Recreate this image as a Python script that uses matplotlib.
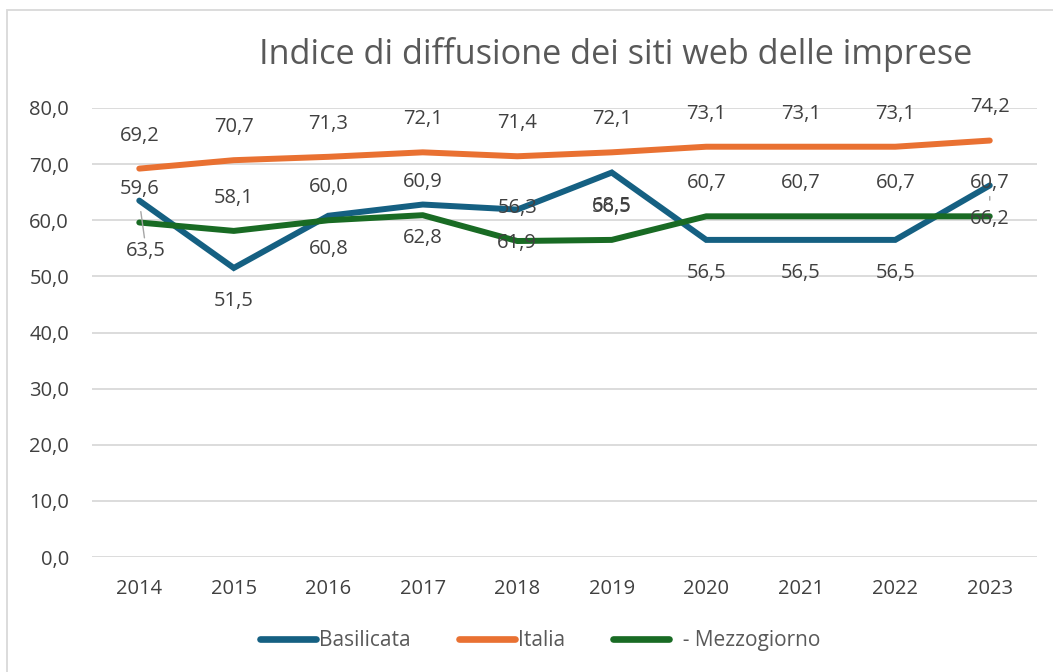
import matplotlib
matplotlib.use("Agg")
import matplotlib.pyplot as plt
from matplotlib import font_manager as fm

years = ["2014", "2015", "2016", "2017", "2018", "2019", "2020", "2021", "2022", "2023"]
basilicata = [63.5, 51.5, 60.8, 62.8, 61.9, 68.5, 56.5, 56.5, 56.5, 66.2]
italia = [69.2, 70.7, 71.3, 72.1, 71.4, 72.1, 73.1, 73.1, 73.1, 74.2]
mezzogiorno = [59.6, 58.1, 60.0, 60.9, 56.3, 56.5, 60.7, 60.7, 60.7, 60.7]
series_names = ["Basilicata", "Italia", "  - Mezzogiorno"]
yticks = [0, 10, 20, 30, 40, 50, 60, 70, 80]
title = "Indice di diffusione dei siti web delle imprese"

c_bas = "#156082"
c_ita = "#E97132"
c_mez = "#196B24"
txt = "#404040"

avail = {f.name for f in fm.fontManager.ttflist}
main_font = "Open Sans" if "Open Sans" in avail else "DejaVu Sans"
plt.rcParams["font.family"] = [main_font, "DejaVu Sans"]

fig = plt.figure(figsize=(10.53, 6.72), dpi=100)
ax = fig.add_axes([0.0874, 0.1711, 0.8974, 0.6682])

x = list(range(len(years)))
lw = 4.3
lb, = ax.plot(x, basilicata, color=c_bas, lw=lw, solid_capstyle="round", solid_joinstyle="miter", zorder=3)
li, = ax.plot(x, italia, color=c_ita, lw=lw, solid_capstyle="round", zorder=3)
lm, = ax.plot(x, mezzogiorno, color=c_mez, lw=lw, solid_capstyle="round", zorder=3)

ax.set_xlim(-0.5, len(years) - 0.5)
ax.set_ylim(0, 80)
ax.set_yticks(yticks)
ax.set_yticklabels([f"{v:.1f}".replace(".", ",") for v in yticks])
ax.set_xticks(x)
ax.set_xticklabels(years)
ax.tick_params(axis="both", length=0, labelsize=14.5, colors=txt)
ax.tick_params(axis="y", pad=16.5)
ax.tick_params(axis="x", pad=16)
ax.grid(axis="y", color="#D9D9D9", lw=1.3)
ax.set_axisbelow(True)
for s in ax.spines.values():
    s.set_visible(False)

def fmt(v):
    return f"{v:.1f}".replace(".", ",")

off = 23.8
fs = 14.5
for i, v in enumerate(italia):
    ax.annotate(fmt(v), (i, v), xytext=(0, off), textcoords="offset points",
                ha="center", va="center", fontsize=fs, color=txt, zorder=4)
for i, v in enumerate(mezzogiorno):
    ax.annotate(fmt(v), (i, v), xytext=(0, off), textcoords="offset points",
                ha="center", va="center", fontsize=fs, color=txt, zorder=4)
for i, v in enumerate(basilicata):
    dx, dy = 0, -off
    arrow = None
    if i == 0:
        dx, dy = 5, -36
        arrow = dict(arrowstyle="-", color="#A6A6A6", lw=1, shrinkA=0, shrinkB=8)
    elif i == len(basilicata) - 1:
        arrow = dict(arrowstyle="-", color="#A6A6A6", lw=1, shrinkA=4, shrinkB=8)
    ax.annotate(fmt(v), (i, v), xytext=(dx, dy), textcoords="offset points",
                ha="center", va="center", fontsize=fs, color=txt, zorder=4,
                arrowprops=arrow)

fig.text(0.585, 0.9196, title, ha="center", va="center", fontsize=24.7, color="#595959")

leg = fig.legend([lb, li, lm], series_names, loc="center", bbox_to_anchor=(0.513, 0.047),
                 ncol=3, frameon=False, handlelength=2.7, handletextpad=0.15,
                 columnspacing=2.3, prop={"size": 15})
for t in leg.get_texts():
    t.set_color("#595959")
for h in leg.legend_handles:
    h.set_linewidth(4.8)
    h.set_solid_capstyle("round")

# chart border
fig.add_artist(plt.Rectangle((0.0066, -0.01), 1.05, 0.995, transform=fig.transFigure,
                             fill=False, edgecolor="#D9D9D9", lw=1.3))

fig.savefig("out.png", dpi=100, facecolor="white")
